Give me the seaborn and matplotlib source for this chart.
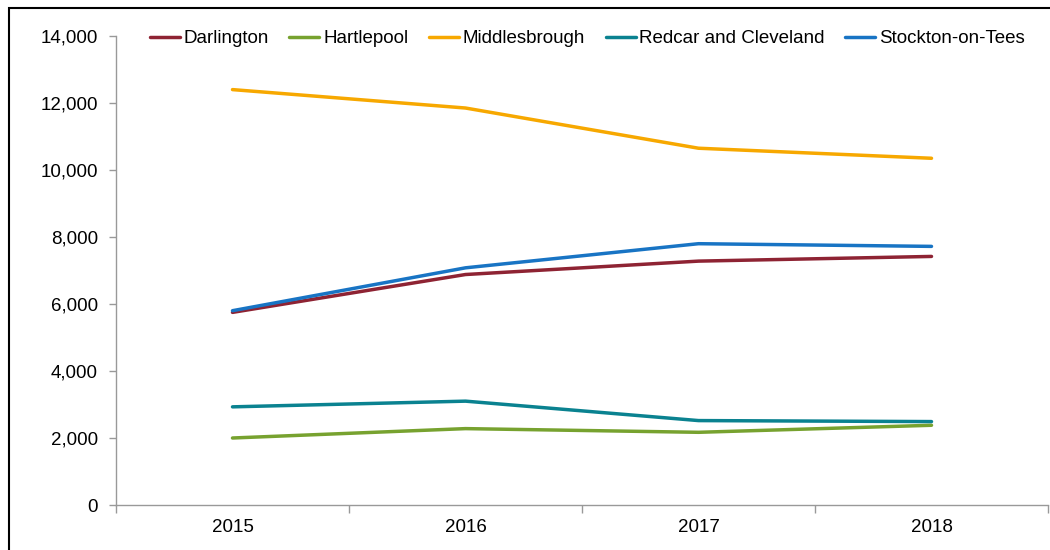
import matplotlib
matplotlib.use("Agg")
import matplotlib.pyplot as plt
import seaborn as sns
import pandas as pd
from matplotlib.ticker import FuncFormatter, FixedLocator
from matplotlib.patches import Rectangle

years = ["2015", "2016", "2017", "2018"]
darlington = [5750, 6880, 7280, 7420]
hartlepool = [2000, 2280, 2170, 2380]
middlesbrough = [12400, 11850, 10650, 10350]
redcar = [2930, 3100, 2520, 2490]
stockton = [5800, 7080, 7800, 7720]

series_names = ["Darlington", "Hartlepool", "Middlesbrough", "Redcar and Cleveland", "Stockton-on-Tees"]
series_vals = [darlington, hartlepool, middlesbrough, redcar, stockton]
colors = ["#8E2333", "#77A22F", "#F7A800", "#0A8290", "#1874C4"]

rows = []
for name, vals in zip(series_names, series_vals):
    for y, v in zip(years, vals):
        rows.append({"Year": y, "Authority": name, "Value": v})
df = pd.DataFrame(rows)

sns.set_theme(style="white")
plt.rcParams['font.family'] = ['Liberation Sans', 'DejaVu Sans']
plt.rcParams['text.color'] = 'black'
plt.rcParams['xtick.color'] = 'black'
plt.rcParams['ytick.color'] = 'black'

fig = plt.figure(figsize=(10.5, 5.5), dpi=100)
ax = fig.add_axes([116/1050, 1 - 505/550, (1048-116)/1050, (505-36)/550])

sns.lineplot(data=df, x="Year", y="Value", hue="Authority", hue_order=series_names,
             palette=colors, linewidth=2.5, ax=ax, sort=False)

ax.set_xlim(-0.5, 3.5)
ax.set_ylim(0, 14000)
ax.set_yticks(range(0, 14001, 2000))
ax.yaxis.set_major_formatter(FuncFormatter(lambda v, p: f"{int(v):,}"))
ax.set_xticks(range(len(years)))
ax.set_xticklabels(years)
ax.xaxis.set_minor_locator(FixedLocator([-0.5, 0.5, 1.5, 2.5, 3.5]))
ax.tick_params(axis="x", which="major", length=0, pad=10, labelsize=13.5, labelcolor="black")
ax.tick_params(axis="x", which="minor", length=6, width=1, color="#999999", direction="out", bottom=True)
ax.tick_params(axis="y", which="major", length=5, width=1, color="#999999", direction="out",
               left=True, pad=8, labelsize=13.5, labelcolor="black")
ax.set_xlabel("")
ax.set_ylabel("")
for s in ["top", "right"]:
    ax.spines[s].set_visible(False)
for s in ["left", "bottom"]:
    ax.spines[s].set_color("#999999")
    ax.spines[s].set_linewidth(1)
ax.grid(False)

handles, labels = ax.get_legend_handles_labels()
leg = ax.legend(handles, labels, loc="center", bbox_to_anchor=(0.5056, 0.994), ncol=5,
                frameon=False, fontsize=13.5, handlelength=1.6, handletextpad=0.2,
                columnspacing=1.1, borderaxespad=0)
for t in leg.get_texts():
    t.set_color("black")

fig.patches.append(Rectangle((9/1050, -0.05), 1.1, 1 - 8/550 + 0.05, transform=fig.transFigure,
                             fill=False, edgecolor="black", linewidth=1.5, zorder=10))

fig.savefig("out.png", dpi=100)
